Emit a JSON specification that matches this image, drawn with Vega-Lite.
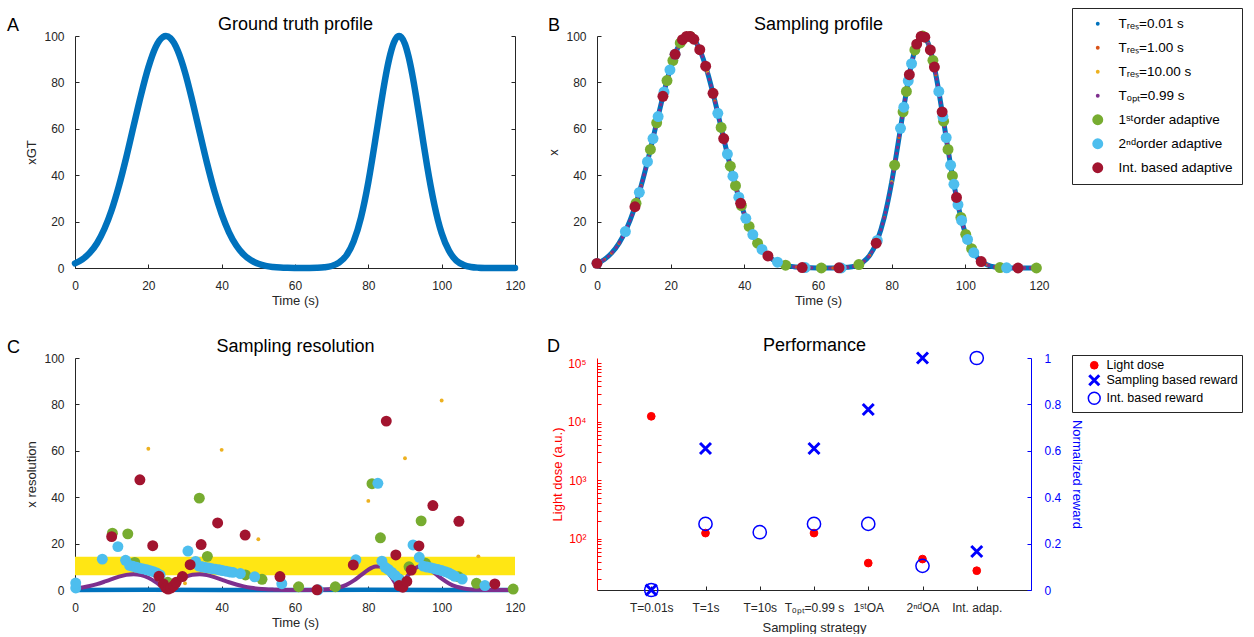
{
  "$schema": "https://vega.github.io/schema/vega-lite/v6.json",
  "padding": {"left": 7, "top": 7, "right": 4, "bottom": 0},
  "background": "white",
  "columns": 2,
  "spacing": {"row": 90, "column": 82},
  "bounds": "flush",
  "datasets": {
    "gt": [
      {"t":0,"x":2.0},{"t":2,"x":3.7},{"t":4,"x":6.5},{"t":6,"x":10.7},{"t":8,"x":16.8},{"t":10,"x":25.0},{"t":12,"x":35.5},{"t":14,"x":47.8},{"t":16,"x":61.3},{"t":18,"x":74.6},{"t":20,"x":86.4},{"t":22,"x":95.2},{"t":23,"x":98.0},{"t":24,"x":99.6},{"t":24.8,"x":100},{"t":26,"x":99.1},{"t":27,"x":97.0},{"t":28,"x":93.7},{"t":30,"x":84.3},{"t":32,"x":72.0},{"t":34,"x":58.5},{"t":36,"x":45.2},{"t":38,"x":33.2},{"t":40,"x":23.2},{"t":42,"x":15.4},{"t":44,"x":9.7},{"t":46,"x":5.8},{"t":48,"x":3.3},{"t":50,"x":1.8},{"t":52,"x":0.9},{"t":54,"x":0.45},{"t":56,"x":0.2},{"t":58,"x":0.08},{"t":60,"x":0.03},{"t":62,"x":0.01},{"t":64,"x":0.02},{"t":66,"x":0.08},{"t":68,"x":0.28},{"t":70,"x":0.85},{"t":72,"x":2.3},{"t":74,"x":5.4},{"t":76,"x":11.5},{"t":78,"x":21.8},{"t":80,"x":37.0},{"t":81,"x":46.3},{"t":82,"x":56.2},{"t":83,"x":66.3},{"t":84,"x":76.1},{"t":85,"x":85.0},{"t":86,"x":92.2},{"t":87,"x":97.3},{"t":88,"x":99.8},{"t":88.4,"x":100},{"t":89,"x":99.5},{"t":90,"x":96.5},{"t":91,"x":90.9},{"t":92,"x":83.3},{"t":93,"x":74.2},{"t":94,"x":64.3},{"t":95,"x":54.1},{"t":96,"x":44.3},{"t":97,"x":35.3},{"t":98,"x":27.3},{"t":99,"x":20.5},{"t":100,"x":15.0},{"t":102,"x":7.4},{"t":104,"x":3.2},{"t":106,"x":1.3},{"t":108,"x":0.45},{"t":110,"x":0.14},{"t":112,"x":0.04},{"t":114,"x":0.01},{"t":116,"x":0},{"t":118,"x":0},{"t":120,"x":0}
    ],
    "bpts": [
      {"s":"oa1","t":10.6,"x":27.9},{"s":"oa1","t":14.5,"x":51.1},{"s":"oa1","t":16.2,"x":62.6},{"s":"oa1","t":19.0,"x":80.8},{"s":"oa1","t":20.6,"x":89.4},{"s":"oa1","t":22.6,"x":97.0},{"s":"oa1","t":25.3,"x":99.8},{"s":"oa1","t":33.7,"x":60.6},{"s":"oa1","t":36.2,"x":43.9},{"s":"oa1","t":37.6,"x":35.5},{"s":"oa1","t":39.2,"x":26.9},{"s":"oa1","t":41.3,"x":17.9},{"s":"oa1","t":43.6,"x":10.7},{"s":"oa1","t":51.2,"x":1.2},{"s":"oa1","t":60.9,"x":0},{"s":"oa1","t":71.1,"x":1.5},{"s":"oa1","t":80.8,"x":44.3},{"s":"oa1","t":83.1,"x":67.3},{"s":"oa1","t":84.0,"x":76.1},{"s":"oa1","t":86.3,"x":94.0},{"s":"oa1","t":88.4,"x":100},{"s":"oa1","t":91.2,"x":89.5},{"s":"oa1","t":94.1,"x":63.3},{"s":"oa1","t":95.3,"x":51.1},{"s":"oa1","t":96.5,"x":39.7},{"s":"oa1","t":98.8,"x":21.8},{"s":"oa1","t":100.1,"x":14.5},{"s":"oa1","t":101.7,"x":8.3},{"s":"oa1","t":109.4,"x":0.2},{"s":"oa1","t":119.3,"x":0},
      {"s":"oa2","t":0,"x":2.0},{"s":"oa2","t":7.7,"x":15.7},{"s":"oa2","t":11.5,"x":32.6},{"s":"oa2","t":13.7,"x":45.8},{"s":"oa2","t":15.2,"x":55.8},{"s":"oa2","t":16.6,"x":65.3},{"s":"oa2","t":18.2,"x":75.9},{"s":"oa2","t":19.8,"x":85.4},{"s":"oa2","t":21.2,"x":92.1},{"s":"oa2","t":32.8,"x":66.7},{"s":"oa2","t":35.4,"x":49.1},{"s":"oa2","t":36.9,"x":39.6},{"s":"oa2","t":38.5,"x":30.5},{"s":"oa2","t":40.4,"x":21.4},{"s":"oa2","t":42.3,"x":14.4},{"s":"oa2","t":44.8,"x":8.0},{"s":"oa2","t":49.0,"x":2.5},{"s":"oa2","t":56.5,"x":0.2},{"s":"oa2","t":66.3,"x":0},{"s":"oa2","t":76.1,"x":11.9},{"s":"oa2","t":82.4,"x":60.2},{"s":"oa2","t":83.3,"x":69.3},{"s":"oa2","t":84.5,"x":80.7},{"s":"oa2","t":85.4,"x":88.1},{"s":"oa2","t":92.8,"x":76.1},{"s":"oa2","t":93.9,"x":65.3},{"s":"oa2","t":94.8,"x":56.2},{"s":"oa2","t":96.0,"x":44.3},{"s":"oa2","t":96.9,"x":36.1},{"s":"oa2","t":98.0,"x":27.3},{"s":"oa2","t":99.0,"x":20.5},{"s":"oa2","t":100.6,"x":12.3},{"s":"oa2","t":102.3,"x":6.6},{"s":"oa2","t":111.2,"x":0.1},
      {"s":"int","t":0,"x":2.0},{"s":"int","t":10.3,"x":26.4},{"s":"int","t":17.9,"x":74.0},{"s":"int","t":21.2,"x":92.1},{"s":"int","t":23.2,"x":98.4},{"s":"int","t":24.3,"x":99.8},{"s":"int","t":25.3,"x":99.8},{"s":"int","t":26.3,"x":98.6},{"s":"int","t":27.9,"x":94.1},{"s":"int","t":29.5,"x":87.0},{"s":"int","t":31.5,"x":75.3},{"s":"int","t":34.4,"x":55.8},{"s":"int","t":39.0,"x":27.9},{"s":"int","t":46.4,"x":5.2},{"s":"int","t":55.7,"x":0.2},{"s":"int","t":65.7,"x":0.1},{"s":"int","t":75.8,"x":10.7},{"s":"int","t":84.8,"x":83.3},{"s":"int","t":86.8,"x":96.5},{"s":"int","t":88.0,"x":99.8},{"s":"int","t":89.0,"x":99.5},{"s":"int","t":90.5,"x":94.0},{"s":"int","t":91.6,"x":86.6},{"s":"int","t":93.7,"x":67.3},{"s":"int","t":97.6,"x":30.4},{"s":"int","t":104.3,"x":2.8},{"s":"int","t":114.3,"x":0}
    ],
    "band": [{"t":0,"t2":120,"r":6.4,"r2":14.3}],
    "cblue": [{"t":0,"r":0.05},{"t":20,"r":0.06},{"t":40,"r":0.05},{"t":60,"r":0},{"t":80,"r":0.09},{"t":100,"r":0.05},{"t":120,"r":0}],
    "cline": [
      {"t":0,"r":0.63},{"t":2,"r":1.07},{"t":4,"r":1.71},{"t":6,"r":2.55},{"t":8,"r":3.57},{"t":10,"r":4.68},{"t":12,"r":5.75},{"t":14,"r":6.53},{"t":16,"r":6.83},{"t":18,"r":6.42},{"t":20,"r":5.25},{"t":22,"r":3.37},{"t":23,"r":2.23},{"t":24,"r":1.01},{"t":24.8,"r":0.1},{"t":26,"r":1.51},{"t":27,"r":2.7},{"t":28,"r":3.8},{"t":30,"r":5.55},{"t":32,"r":6.56},{"t":34,"r":6.81},{"t":36,"r":6.41},{"t":38,"r":5.55},{"t":40,"r":4.46},{"t":42,"r":3.35},{"t":44,"r":2.36},{"t":46,"r":1.56},{"t":48,"r":0.97},{"t":50,"r":0.57},{"t":52,"r":0.31},{"t":54,"r":0.17},{"t":56,"r":0.08},{"t":58,"r":0.03},{"t":60,"r":0.01},{"t":64,"r":0.01},{"t":66,"r":0.06},{"t":68,"r":0.17},{"t":70,"r":0.44},{"t":72,"r":1.06},{"t":74,"r":2.19},{"t":76,"r":4.02},{"t":78,"r":6.39},{"t":80,"r":8.75},{"t":81,"r":9.65},{"t":82,"r":10.13},{"t":83,"r":10.09},{"t":84,"r":9.43},{"t":85,"r":8.14},{"t":86,"r":6.23},{"t":87,"r":3.84},{"t":88,"r":1.12},{"t":88.4,"r":0.3},{"t":89,"r":1.68},{"t":90,"r":4.35},{"t":91,"r":6.66},{"t":92,"r":8.45},{"t":93,"r":9.61},{"t":94,"r":10.14},{"t":95,"r":10.06},{"t":96,"r":9.48},{"t":97,"r":8.55},{"t":98,"r":7.38},{"t":100,"r":4.9},{"t":102,"r":2.83},{"t":104,"r":1.41},{"t":106,"r":0.64},{"t":108,"r":0.25},{"t":110,"r":0.08},{"t":112,"r":0.02},{"t":116,"r":0},{"t":120,"r":0}
    ],
    "cres": [
      {"s":"t10","t":10,"r":23.5},{"s":"t10","t":20,"r":60.9},{"s":"t10","t":30,"r":2.9},{"s":"t10","t":40,"r":60.4},{"s":"t10","t":50,"r":21.9},{"s":"t10","t":60,"r":1.6},{"s":"t10","t":70,"r":0.8},{"s":"t10","t":80,"r":38.4},{"s":"t10","t":90,"r":56.8},{"s":"t10","t":100,"r":81.7},{"s":"t10","t":110,"r":14.5},{"s":"t10","t":120,"r":0.2},
      {"s":"oa1","t":10.2,"r":24.5},{"s":"oa1","t":14.4,"r":24.2},{"s":"oa1","t":16.3,"r":11.9},{"s":"oa1","t":25.3,"r":3.3},{"s":"oa1","t":33.9,"r":39.6},{"s":"oa1","t":36.1,"r":14.5},{"s":"oa1","t":46.5,"r":6.5},{"s":"oa1","t":51.0,"r":4.6},{"s":"oa1","t":61.0,"r":1.4},{"s":"oa1","t":71.0,"r":1.4},{"s":"oa1","t":81.0,"r":45.8},{"s":"oa1","t":83.3,"r":22.5},{"s":"oa1","t":88.4,"r":4.7},{"s":"oa1","t":91.1,"r":10.0},{"s":"oa1","t":94.4,"r":29.8},{"s":"oa1","t":95.6,"r":11.5},{"s":"oa1","t":104.6,"r":5.7},{"s":"oa1","t":109.5,"r":2.9},{"s":"oa1","t":119.5,"r":0.4},
      {"s":"oa2","t":0.2,"r":0.9},{"s":"oa2","t":0.2,"r":3.0},{"s":"oa2","t":7.45,"r":13.3},{"s":"oa2","t":11.7,"r":18.7},{"s":"oa2","t":13.8,"r":12.8},{"s":"oa2","t":14.9,"r":10.6},{"s":"oa2","t":15.8,"r":10.2},{"s":"oa2","t":16.8,"r":9.8},{"s":"oa2","t":17.7,"r":9.4},{"s":"oa2","t":18.6,"r":9.1},{"s":"oa2","t":19.6,"r":8.7},{"s":"oa2","t":20.5,"r":8.3},{"s":"oa2","t":21.4,"r":7.9},{"s":"oa2","t":22.3,"r":7.3},{"s":"oa2","t":23.2,"r":6.5},{"s":"oa2","t":30.8,"r":16.8},{"s":"oa2","t":32.9,"r":12.3},{"s":"oa2","t":33.8,"r":10.3},{"s":"oa2","t":34.7,"r":10.0},{"s":"oa2","t":35.6,"r":9.7},{"s":"oa2","t":36.5,"r":9.5},{"s":"oa2","t":37.4,"r":9.2},{"s":"oa2","t":38.3,"r":9.0},{"s":"oa2","t":39.3,"r":8.7},{"s":"oa2","t":40.2,"r":8.4},{"s":"oa2","t":41.2,"r":8.1},{"s":"oa2","t":42.2,"r":7.8},{"s":"oa2","t":43.1,"r":7.6},{"s":"oa2","t":45.1,"r":7.1},{"s":"oa2","t":49.0,"r":5.7},{"s":"oa2","t":56.4,"r":2.7},{"s":"oa2","t":66.3,"r":0.1},{"s":"oa2","t":76.6,"r":13.0},{"s":"oa2","t":82.6,"r":46.0},{"s":"oa2","t":83.7,"r":12.4},{"s":"oa2","t":84.6,"r":9.8},{"s":"oa2","t":85.5,"r":8.8},{"s":"oa2","t":86.4,"r":7.6},{"s":"oa2","t":87.3,"r":6.3},{"s":"oa2","t":88.3,"r":4.8},{"s":"oa2","t":92.2,"r":19.4},{"s":"oa2","t":93.9,"r":14.1},{"s":"oa2","t":95.0,"r":10.3},{"s":"oa2","t":96.0,"r":9.9},{"s":"oa2","t":97.0,"r":9.6},{"s":"oa2","t":98.0,"r":9.2},{"s":"oa2","t":99.0,"r":8.8},{"s":"oa2","t":100.0,"r":8.4},{"s":"oa2","t":101.0,"r":7.9},{"s":"oa2","t":102.0,"r":7.3},{"s":"oa2","t":102.8,"r":6.6},{"s":"oa2","t":103.6,"r":5.9},{"s":"oa2","t":105.6,"r":4.7},{"s":"oa2","t":111.8,"r":1.9},
      {"s":"int","t":10.0,"r":23.0},{"s":"int","t":17.7,"r":47.5},{"s":"int","t":21.2,"r":19.1},{"s":"int","t":22.9,"r":5.9},{"s":"int","t":24.1,"r":2.6},{"s":"int","t":24.8,"r":0.9},{"s":"int","t":25.4,"r":0.4},{"s":"int","t":26.2,"r":0.9},{"s":"int","t":26.9,"r":1.9},{"s":"int","t":27.6,"r":3.3},{"s":"int","t":29.3,"r":5.8},{"s":"int","t":31.4,"r":10.9},{"s":"int","t":34.4,"r":19.6},{"s":"int","t":38.9,"r":28.9},{"s":"int","t":46.4,"r":23.7},{"s":"int","t":55.9,"r":5.8},{"s":"int","t":66.0,"r":0.1},{"s":"int","t":75.9,"r":10.8},{"s":"int","t":84.9,"r":72.8},{"s":"int","t":87.5,"r":15.1},{"s":"int","t":88.4,"r":1.9},{"s":"int","t":89.4,"r":1.2},{"s":"int","t":90.5,"r":3.7},{"s":"int","t":91.7,"r":8.6},{"s":"int","t":93.8,"r":19.0},{"s":"int","t":97.6,"r":36.4},{"s":"int","t":104.7,"r":29.6},{"s":"int","t":114.5,"r":2.6}
    ],
    "perf": [
      {"k":1,"m":"Light dose","v":12300},{"k":2,"m":"Light dose","v":124},{"k":4,"m":"Light dose","v":124},{"k":5,"m":"Light dose","v":38.1},{"k":6,"m":"Light dose","v":44.6},{"k":7,"m":"Light dose","v":28.2},
      {"k":1,"m":"Sampling based reward","v":0},{"k":2,"m":"Sampling based reward","v":0.61},{"k":4,"m":"Sampling based reward","v":0.61},{"k":5,"m":"Sampling based reward","v":0.778},{"k":6,"m":"Sampling based reward","v":1.0},{"k":7,"m":"Sampling based reward","v":0.166},
      {"k":1,"m":"Int. based reward","v":0},{"k":2,"m":"Int. based reward","v":0.285},{"k":3,"m":"Int. based reward","v":0.249},{"k":4,"m":"Int. based reward","v":0.285},{"k":5,"m":"Int. based reward","v":0.285},{"k":6,"m":"Int. based reward","v":0.104},{"k":7,"m":"Int. based reward","v":1.0}
    ]
  },
  "concat": [
    {
      "width": 440, "height": 232,
      "title": {"text": "A", "dx": -68, "dy": 21, "offset": -13, "baseline": "alphabetic"},
      "data": {"name": "gt"},
      "layer": [
        {
          "mark": {"type": "line", "color": "#0072BD", "strokeWidth": 6.5, "interpolate": "monotone", "strokeCap": "round", "strokeJoin": "round"},
          "encoding": {
            "x": {"field": "t", "type": "quantitative", "scale": {"domain": [0, 120], "nice": false}, "axis": {"title": "Time (s)", "values": [0, 20, 40, 60, 80, 100, 120]}},
            "y": {"field": "x", "type": "quantitative", "scale": {"domain": [0, 100], "nice": false}, "axis": {"title": "xGT", "values": [0, 20, 40, 60, 80, 100]}}
          }
        },
        {
          "mark": {"type": "line", "opacity": 0},
          "encoding": {
            "x": {"field": "t", "type": "quantitative", "scale": {"domain": [0, 120], "nice": false}, "axis": {"orient": "top", "title": "Ground truth profile", "domain": false, "ticks": false, "labels": false, "titleFontSize": 18, "titleColor": "#000000", "titlePadding": 7, "titleBaseline": "alphabetic"}},
            "y": {"field": "x", "type": "quantitative", "scale": {"domain": [0, 100], "nice": false}, "axis": {"orient": "right", "title": null, "labels": false, "values": [0, 20, 40, 60, 80, 100]}}
          }
        }
      ],
      "resolve": {"axis": {"x": "independent", "y": "independent"}}
    },
    {
      "width": 442, "height": 232,
      "title": {"text": "B", "dx": -49, "dy": 21, "offset": -13, "baseline": "alphabetic"},
      "layer": [
        {
          "data": {"name": "gt"},
          "mark": {"type": "line", "color": "#0072BD", "strokeWidth": 5, "interpolate": "monotone"},
          "encoding": {
            "x": {"field": "t", "type": "quantitative", "scale": {"domain": [0, 120], "nice": false}, "axis": {"title": "Time (s)", "values": [0, 20, 40, 60, 80, 100, 120]}},
            "y": {"field": "x", "type": "quantitative", "scale": {"domain": [0, 100], "nice": false}, "axis": {"title": "x", "values": [0, 20, 40, 60, 80, 100]}}
          }
        },
        {
          "data": {"name": "gt"},
          "mark": {"type": "point", "filled": true, "color": "#D95319", "size": 12, "opacity": 1},
          "encoding": {
            "x": {"field": "t", "type": "quantitative", "scale": {"domain": [0, 120], "nice": false}, "axis": null},
            "y": {"field": "x", "type": "quantitative", "scale": {"domain": [0, 100], "nice": false}, "axis": null}
          }
        },
        {
          "data": {"name": "gt"},
          "transform": [{"filter": "datum.t % 10 === 0"}],
          "mark": {"type": "point", "filled": true, "color": "#EDB120", "size": 14, "opacity": 1},
          "encoding": {
            "x": {"field": "t", "type": "quantitative", "scale": {"domain": [0, 120], "nice": false}, "axis": null},
            "y": {"field": "x", "type": "quantitative", "scale": {"domain": [0, 100], "nice": false}, "axis": null}
          }
        },
        {
          "data": {"name": "gt"},
          "mark": {"type": "line", "color": "#7E2F8E", "strokeWidth": 3, "strokeDash": [3, 3], "interpolate": "monotone"},
          "encoding": {
            "x": {"field": "t", "type": "quantitative", "scale": {"domain": [0, 120], "nice": false}, "axis": null},
            "y": {"field": "x", "type": "quantitative", "scale": {"domain": [0, 100], "nice": false}, "axis": null}
          }
        },
        {
          "data": {"name": "bpts"},
          "mark": {"type": "point", "filled": true, "opacity": 1},
          "encoding": {
            "x": {"field": "t", "type": "quantitative", "scale": {"domain": [0, 120], "nice": false}, "axis": null},
            "y": {"field": "x", "type": "quantitative", "scale": {"domain": [0, 100], "nice": false}, "axis": null},
            "color": {"field": "s", "type": "nominal", "scale": {"domain": ["t001", "t1", "t10", "topt", "oa1", "oa2", "int"], "range": ["#0072BD", "#D95319", "#EDB120", "#7E2F8E", "#77AC30", "#4DBEEE", "#A2142F"]},
              "legend": {"title": null, "orient": "none", "legendX": 997, "legendY": -28, "strokeColor": "#262626", "fillColor": "#ffffff", "padding": 9, "rowPadding": 9, "labelFontSize": 13.5, "labelColor": "#000000", "symbolOffset": 10, "labelOffset": 14, "symbolStrokeWidth": 0, "symbolSize": 80,
                "labelExpr": "{'t001':'Tᵣₑₛ=0.01 s','t1':'Tᵣₑₛ=1.00 s','t10':'Tᵣₑₛ=10.00 s','topt':'Tₒₚₜ=0.99 s','oa1':'1ˢᵗorder adaptive','oa2':'2ⁿᵈorder adaptive','int':'Int. based adaptive'}[datum.value]",
                "encoding": {"symbols": {"size": {"value": {"expr": "indexof(['oa1','oa2','int'], datum.value) >= 0 ? 80 : 16"}}}}}},
            "size": {"field": "s", "type": "nominal", "scale": {"type": "ordinal", "domain": ["t001", "t1", "t10", "topt", "oa1", "oa2", "int"], "range": [15, 15, 15, 15, 120, 120, 120]}, "legend": null}
          }
        },
        {
          "data": {"name": "gt"},
          "mark": {"type": "point", "opacity": 0},
          "encoding": {
            "x": {"field": "t", "type": "quantitative", "scale": {"domain": [0, 120], "nice": false}, "axis": {"orient": "top", "title": "Sampling profile", "domain": false, "ticks": false, "labels": false, "titleFontSize": 18, "titleColor": "#000000", "titlePadding": 7, "titleBaseline": "alphabetic"}}
          }
        }
      ],
      "resolve": {"axis": {"x": "independent", "y": "independent"}}
    },
    {
      "width": 440, "height": 232,
      "title": {"text": "C", "dx": -68, "dy": 21, "offset": -13, "baseline": "alphabetic"},
      "layer": [
        {
          "data": {"name": "band"},
          "mark": {"type": "rect", "color": "#FFE614"},
          "encoding": {
            "x": {"field": "t", "type": "quantitative", "scale": {"domain": [0, 120], "nice": false}, "axis": null},
            "x2": {"field": "t2"},
            "y": {"field": "r", "type": "quantitative", "scale": {"domain": [0, 100], "nice": false}, "axis": null},
            "y2": {"field": "r2"}
          }
        },
        {
          "data": {"name": "cblue"},
          "mark": {"type": "line", "color": "#0072BD", "strokeWidth": 4.5},
          "encoding": {
            "x": {"field": "t", "type": "quantitative", "scale": {"domain": [0, 120], "nice": false}, "axis": null},
            "y": {"field": "r", "type": "quantitative", "scale": {"domain": [0, 100], "nice": false}, "axis": null}
          }
        },
        {
          "data": {"name": "cline"},
          "mark": {"type": "line", "color": "#7E2F8E", "strokeWidth": 4, "interpolate": "monotone"},
          "encoding": {
            "x": {"field": "t", "type": "quantitative", "scale": {"domain": [0, 120], "nice": false}, "axis": {"title": "Time (s)", "values": [0, 20, 40, 60, 80, 100, 120]}},
            "y": {"field": "r", "type": "quantitative", "scale": {"domain": [0, 100], "nice": false}, "axis": {"title": "x resolution", "values": [0, 20, 40, 60, 80, 100]}}
          }
        },
        {
          "data": {"name": "cres"},
          "mark": {"type": "point", "filled": true, "opacity": 1},
          "encoding": {
            "x": {"field": "t", "type": "quantitative", "scale": {"domain": [0, 120], "nice": false}, "axis": null},
            "y": {"field": "r", "type": "quantitative", "scale": {"domain": [0, 100], "nice": false}, "axis": null},
            "color": {"field": "s", "type": "nominal", "scale": {"domain": ["t001", "t1", "t10", "topt", "oa1", "oa2", "int"], "range": ["#0072BD", "#D95319", "#EDB120", "#7E2F8E", "#77AC30", "#4DBEEE", "#A2142F"]}, "legend": null},
            "size": {"field": "s", "type": "nominal", "scale": {"type": "ordinal", "domain": ["t001", "t1", "t10", "topt", "oa1", "oa2", "int"], "range": [18, 18, 18, 18, 100, 100, 100]}, "legend": null}
          }
        },
        {
          "data": {"name": "band"},
          "mark": {"type": "point", "opacity": 0},
          "encoding": {
            "x": {"field": "t", "type": "quantitative", "scale": {"domain": [0, 120], "nice": false}, "axis": {"orient": "top", "title": "Sampling resolution", "domain": false, "ticks": false, "labels": false, "titleFontSize": 18, "titleColor": "#000000", "titlePadding": 7, "titleBaseline": "alphabetic"}}
          }
        }
      ],
      "resolve": {"axis": {"x": "independent", "y": "independent"}}
    },
    {
      "width": 434, "height": 232,
      "title": {"text": "D", "dx": -50, "dy": 21, "offset": -13, "baseline": "alphabetic"},
      "data": {"name": "perf"},
      "layer": [
        {
          "transform": [{"filter": "datum.m === 'Light dose'"}],
          "mark": {"type": "point", "filled": true, "opacity": 1, "size": 60, "strokeWidth": 1},
          "encoding": {
            "x": {"field": "k", "type": "quantitative", "scale": {"domain": [0, 8], "nice": false}, "axis": {"title": "Sampling strategy", "titlePadding": 8, "values": [1, 2, 3, 4, 5, 6, 7], "labelExpr": "['','T=0.01s','T=1s','T=10s','Tₒₚₜ=0.99 s','1ˢᵗOA','2ⁿᵈOA','Int. adap.',''][datum.value]"}},
            "y": {"field": "v", "type": "quantitative", "scale": {"type": "log", "domain": [13.2, 122000], "nice": false}, "axis": {"orient": "left", "title": "Light dose (a.u.)", "titlePadding": 3, "domainColor": "#FF0000", "tickColor": "#FF0000", "labelColor": "#FF0000", "titleColor": "#FF0000", "values": [20,30,40,50,60,70,80,90,100,200,300,400,500,600,700,800,900,1000,2000,3000,4000,5000,6000,7000,8000,9000,10000,20000,30000,40000,50000,60000,70000,80000,90000,100000], "labelExpr": "datum.value == 100 ? '10²' : datum.value == 1000 ? '10³' : datum.value == 10000 ? '10⁴' : datum.value == 100000 ? '10⁵' : ''"}},
            "shape": {"field": "m", "type": "nominal", "scale": {"domain": ["Light dose", "Sampling based reward", "Int. based reward"], "range": ["circle", "M-1,-1L1,1M-1,1L1,-1", "circle"]}, "legend": {"title": null, "orient": "none", "legendX": 997, "legendY": 319, "strokeColor": "#262626", "fillColor": "#ffffff", "padding": 4, "rowPadding": -3, "labelFontSize": 12.5, "labelColor": "#000000", "symbolOffset": 12, "labelOffset": 6, "encoding": {"symbols": {"size": {"value": {"expr": "datum.value === 'Light dose' ? 60 : datum.value === 'Sampling based reward' ? 100 : 140"}}, "strokeWidth": {"value": {"expr": "datum.value === 'Sampling based reward' ? 3 : datum.value === 'Light dose' ? 1 : 1.5"}}}}}},
            "fill": {"field": "m", "type": "nominal", "scale": {"domain": ["Light dose", "Sampling based reward", "Int. based reward"], "range": ["#FF0000", "transparent", "transparent"]}, "legend": {"title": null, "orient": "none", "legendX": 997, "legendY": 319, "strokeColor": "#262626", "fillColor": "#ffffff", "padding": 4, "rowPadding": -3, "labelFontSize": 12.5, "labelColor": "#000000", "symbolOffset": 12, "labelOffset": 6, "encoding": {"symbols": {"size": {"value": {"expr": "datum.value === 'Light dose' ? 60 : datum.value === 'Sampling based reward' ? 100 : 140"}}, "strokeWidth": {"value": {"expr": "datum.value === 'Sampling based reward' ? 3 : datum.value === 'Light dose' ? 1 : 1.5"}}}}}},
            "stroke": {"field": "m", "type": "nominal", "scale": {"domain": ["Light dose", "Sampling based reward", "Int. based reward"], "range": ["#FF0000", "#0000FF", "#0000FF"]}, "legend": {"title": null, "orient": "none", "legendX": 997, "legendY": 319, "strokeColor": "#262626", "fillColor": "#ffffff", "padding": 4, "rowPadding": -3, "labelFontSize": 12.5, "labelColor": "#000000", "symbolOffset": 12, "labelOffset": 6, "encoding": {"symbols": {"size": {"value": {"expr": "datum.value === 'Light dose' ? 60 : datum.value === 'Sampling based reward' ? 100 : 140"}}, "strokeWidth": {"value": {"expr": "datum.value === 'Sampling based reward' ? 3 : datum.value === 'Light dose' ? 1 : 1.5"}}}}}}
          }
        },
        {
          "transform": [{"filter": "datum.m === 'Sampling based reward'"}],
          "mark": {"type": "point", "filled": true, "opacity": 1, "size": 120, "strokeWidth": 3},
          "encoding": {
            "x": {"field": "k", "type": "quantitative", "scale": {"domain": [0, 8], "nice": false}, "axis": null},
            "y": {"field": "v", "type": "quantitative", "scale": {"domain": [0, 1], "nice": false}, "axis": {"orient": "right", "title": "Normalized reward", "titlePadding": 9, "labelPadding": 17, "format": "~g", "values": [0, 0.2, 0.4, 0.6, 0.8, 1], "domainColor": "#0000FF", "tickColor": "#0000FF", "labelColor": "#0000FF", "titleColor": "#0000FF"}},
            "shape": {"field": "m", "type": "nominal", "scale": {"domain": ["Light dose", "Sampling based reward", "Int. based reward"], "range": ["circle", "M-1,-1L1,1M-1,1L1,-1", "circle"]}, "legend": {"title": null, "orient": "none", "legendX": 997, "legendY": 319, "strokeColor": "#262626", "fillColor": "#ffffff", "padding": 4, "rowPadding": -3, "labelFontSize": 12.5, "labelColor": "#000000", "symbolOffset": 12, "labelOffset": 6, "encoding": {"symbols": {"size": {"value": {"expr": "datum.value === 'Light dose' ? 60 : datum.value === 'Sampling based reward' ? 100 : 140"}}, "strokeWidth": {"value": {"expr": "datum.value === 'Sampling based reward' ? 3 : datum.value === 'Light dose' ? 1 : 1.5"}}}}}},
            "fill": {"field": "m", "type": "nominal", "scale": {"domain": ["Light dose", "Sampling based reward", "Int. based reward"], "range": ["#FF0000", "transparent", "transparent"]}, "legend": {"title": null, "orient": "none", "legendX": 997, "legendY": 319, "strokeColor": "#262626", "fillColor": "#ffffff", "padding": 4, "rowPadding": -3, "labelFontSize": 12.5, "labelColor": "#000000", "symbolOffset": 12, "labelOffset": 6, "encoding": {"symbols": {"size": {"value": {"expr": "datum.value === 'Light dose' ? 60 : datum.value === 'Sampling based reward' ? 100 : 140"}}, "strokeWidth": {"value": {"expr": "datum.value === 'Sampling based reward' ? 3 : datum.value === 'Light dose' ? 1 : 1.5"}}}}}},
            "stroke": {"field": "m", "type": "nominal", "scale": {"domain": ["Light dose", "Sampling based reward", "Int. based reward"], "range": ["#FF0000", "#0000FF", "#0000FF"]}, "legend": {"title": null, "orient": "none", "legendX": 997, "legendY": 319, "strokeColor": "#262626", "fillColor": "#ffffff", "padding": 4, "rowPadding": -3, "labelFontSize": 12.5, "labelColor": "#000000", "symbolOffset": 12, "labelOffset": 6, "encoding": {"symbols": {"size": {"value": {"expr": "datum.value === 'Light dose' ? 60 : datum.value === 'Sampling based reward' ? 100 : 140"}}, "strokeWidth": {"value": {"expr": "datum.value === 'Sampling based reward' ? 3 : datum.value === 'Light dose' ? 1 : 1.5"}}}}}}
          }
        },
        {
          "transform": [{"filter": "datum.m === 'Int. based reward'"}],
          "mark": {"type": "point", "filled": true, "opacity": 1, "size": 175, "strokeWidth": 1.5},
          "encoding": {
            "x": {"field": "k", "type": "quantitative", "scale": {"domain": [0, 8], "nice": false}, "axis": null},
            "y": {"field": "v", "type": "quantitative", "scale": {"domain": [0, 1], "nice": false}, "axis": null},
            "shape": {"field": "m", "type": "nominal", "scale": {"domain": ["Light dose", "Sampling based reward", "Int. based reward"], "range": ["circle", "M-1,-1L1,1M-1,1L1,-1", "circle"]}, "legend": {"title": null, "orient": "none", "legendX": 997, "legendY": 319, "strokeColor": "#262626", "fillColor": "#ffffff", "padding": 4, "rowPadding": -3, "labelFontSize": 12.5, "labelColor": "#000000", "symbolOffset": 12, "labelOffset": 6, "encoding": {"symbols": {"size": {"value": {"expr": "datum.value === 'Light dose' ? 60 : datum.value === 'Sampling based reward' ? 100 : 140"}}, "strokeWidth": {"value": {"expr": "datum.value === 'Sampling based reward' ? 3 : datum.value === 'Light dose' ? 1 : 1.5"}}}}}},
            "fill": {"field": "m", "type": "nominal", "scale": {"domain": ["Light dose", "Sampling based reward", "Int. based reward"], "range": ["#FF0000", "transparent", "transparent"]}, "legend": {"title": null, "orient": "none", "legendX": 997, "legendY": 319, "strokeColor": "#262626", "fillColor": "#ffffff", "padding": 4, "rowPadding": -3, "labelFontSize": 12.5, "labelColor": "#000000", "symbolOffset": 12, "labelOffset": 6, "encoding": {"symbols": {"size": {"value": {"expr": "datum.value === 'Light dose' ? 60 : datum.value === 'Sampling based reward' ? 100 : 140"}}, "strokeWidth": {"value": {"expr": "datum.value === 'Sampling based reward' ? 3 : datum.value === 'Light dose' ? 1 : 1.5"}}}}}},
            "stroke": {"field": "m", "type": "nominal", "scale": {"domain": ["Light dose", "Sampling based reward", "Int. based reward"], "range": ["#FF0000", "#0000FF", "#0000FF"]}, "legend": {"title": null, "orient": "none", "legendX": 997, "legendY": 319, "strokeColor": "#262626", "fillColor": "#ffffff", "padding": 4, "rowPadding": -3, "labelFontSize": 12.5, "labelColor": "#000000", "symbolOffset": 12, "labelOffset": 6, "encoding": {"symbols": {"size": {"value": {"expr": "datum.value === 'Light dose' ? 60 : datum.value === 'Sampling based reward' ? 100 : 140"}}, "strokeWidth": {"value": {"expr": "datum.value === 'Sampling based reward' ? 3 : datum.value === 'Light dose' ? 1 : 1.5"}}}}}}
          }
        },
        {
          "mark": {"type": "point", "opacity": 0},
          "encoding": {
            "x": {"field": "k", "type": "quantitative", "scale": {"domain": [0, 8], "nice": false}, "axis": {"orient": "top", "title": "Performance", "domain": false, "ticks": false, "labels": false, "titleFontSize": 18, "titleColor": "#000000", "titlePadding": 8, "titleBaseline": "alphabetic"}}
          }
        }
      ],
      "resolve": {"scale": {"y": "independent"}, "axis": {"x": "independent", "y": "independent"}}
    }
  ],
  "config": {
    "font": "Liberation Sans",
    "view": {"stroke": null},
    "axis": {"grid": false, "domainColor": "#262626", "tickColor": "#262626", "labelColor": "#262626", "titleColor": "#262626", "labelFontSize": 12, "titleFontSize": 13, "titleFontWeight": "normal", "tickSize": -4, "labelFlush": false, "labelOverlap": false},
    "axisX": {"labelPadding": 16, "titlePadding": 3},
    "axisY": {"labelPadding": 15, "titlePadding": 5},
    "title": {"fontSize": 18, "fontWeight": "normal", "color": "#000000", "anchor": "start", "frame": "group"}
  }
}
